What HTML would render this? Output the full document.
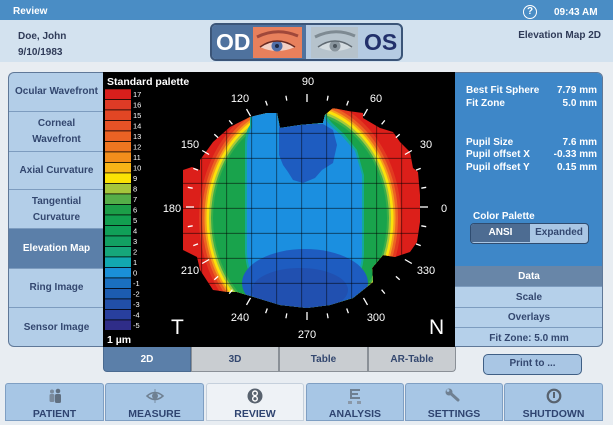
<!DOCTYPE html>
<html><head><meta charset="utf-8">
<style>
*{box-sizing:border-box;margin:0;padding:0}
html,body{width:613px;height:425px;overflow:hidden}
body{position:relative;background:#e8edf2;font-family:"Liberation Sans",Arial,sans-serif;font-weight:bold}
.a{position:absolute}
.t10{font-size:10px;line-height:12px}
.menu{left:8px;top:72px;width:95px;height:275px;border:1px solid #5f7898;border-right:none;border-radius:6px 0 0 6px;overflow:hidden;background:#b3cee8}
.mi{position:absolute;left:0;width:95px;display:flex;align-items:center;justify-content:center;text-align:center;font-size:10px;line-height:16px;color:#33476f;border-top:1px solid #7d9cbf}
.sel{background:#5b7fa9;color:#fff}
.rp{left:455px;top:72px;width:148px;height:275px;border-radius:0 6px 6px 0;overflow:hidden;background:#b5d0ea;border:1px solid #5f7898;border-left:none}
.row{position:absolute;left:0;width:148px;text-align:center;font-size:10px;color:#33476f;border-top:1px solid #7d9cbf;display:flex;align-items:center;justify-content:center}
.wt{color:#fff;font-size:10px;line-height:12px;position:absolute}
.tab{position:absolute;top:347px;height:25px;display:flex;align-items:center;justify-content:center;font-size:10px;color:#33476f;background:#c9cdd1;border:1px solid #8a9097;border-top:none}
.nb{position:absolute;top:383px;height:38px;background:#a7c6e5;border:1px solid #7f9fc3;border-radius:3px 3px 0 0;font-size:10.5px;color:#2f4470;text-align:center}
.nb span{position:absolute;left:0;right:0;top:24px;line-height:12px}
.nb svg{position:absolute;left:50%;top:4px;transform:translateX(-50%)}
</style></head><body>

<!-- top bar -->
<div class="a" style="left:0;top:0;width:613px;height:20px;background:#4a8dc5"></div>
<div class="a t10" style="left:13px;top:6px;color:#fff">Review</div>
<div class="a" style="left:523px;top:5px;width:14px;height:14px;border:1.5px solid #fff;border-radius:50%;color:#fff;font-size:10px;line-height:11px;text-align:center">?</div>
<div class="a t10" style="left:554px;top:7px;color:#fff">09:43 AM</div>

<!-- header -->
<div class="a" style="left:0;top:20px;width:613px;height:42px;background:#d3e2ef"></div>
<div class="a t10" style="left:18px;top:31px;color:#2f3b58">Doe, John</div>
<div class="a t10" style="left:18px;top:47px;color:#2f3b58">9/10/1983</div>
<div class="a t10" style="right:12px;top:30px;color:#2f3b58">Elevation Map 2D</div>

<!-- OD / OS -->
<div class="a" style="left:210px;top:23px;width:193px;height:38px;border:2px solid #3b5578;border-radius:6px;overflow:hidden;background:#b5cbe2">
  <div class="a" style="left:0;top:0;width:94px;height:34px;background:#4f729e"></div>
  <div class="a" style="left:4px;top:3px;font-size:23px;line-height:28px;color:#fff;font-weight:bold">OD</div>
  <div class="a" style="left:41px;top:2px;width:49px;height:31px;background:#e8805c;overflow:hidden">
    <svg width="49" height="31"><path d="M4,10 Q24,0 45,9" stroke="#a0483a" stroke-width="3" fill="none"/><path d="M7,20 Q24,8 42,20 Q24,28 7,20Z" fill="#f3d0c4"/><circle cx="24" cy="19" r="5.5" fill="#4f6fa8"/><circle cx="24" cy="19" r="2" fill="#1d2a44"/><path d="M7,20 Q24,8 42,20" stroke="#6a2a22" stroke-width="1.5" fill="none"/></svg>
  </div>
  <div class="a" style="left:99px;top:2px;width:47px;height:31px;background:#b6c3cc;overflow:hidden">
    <svg width="47" height="31"><path d="M4,10 Q24,0 44,9" stroke="#7e8a92" stroke-width="3" fill="none"/><path d="M7,20 Q24,8 41,20 Q24,28 7,20Z" fill="#d4dce0"/><circle cx="24" cy="19" r="5.5" fill="#8a969e"/><circle cx="24" cy="19" r="2" fill="#4a545c"/><path d="M7,20 Q24,8 41,20" stroke="#606a72" stroke-width="1.5" fill="none"/></svg>
  </div>
  <div class="a" style="left:152px;top:3px;font-size:23px;line-height:28px;color:#22306a;font-weight:bold">OS</div>
</div>

<!-- left menu -->
<div class="a menu">
  <div class="mi" style="top:-1px;height:40px;border-top:none">Ocular Wavefront</div>
  <div class="mi" style="top:38px;height:40px">Corneal<br>Wavefront</div>
  <div class="mi" style="top:78px;height:39px">Axial Curvature</div>
  <div class="mi" style="top:116px;height:40px">Tangential<br>Curvature</div>
  <div class="mi sel" style="top:155px;height:40px">Elevation Map</div>
  <div class="mi" style="top:195px;height:39px">Ring Image</div>
  <div class="mi" style="top:234px;height:41px">Sensor Image</div>
</div>

<!-- map -->
<svg class="a" style="left:103px;top:72px" width="353" height="275" viewBox="103 72 353 275" font-family="Liberation Sans, Arial, sans-serif">
<rect x="103" y="72" width="353" height="275" fill="#000"/>
<defs><clipPath id="disk"><polygon points="183,170 192,167 200,170 200,160 213,142 230,127 250,117 267,113 277,113 280,128 300,125 323,123 325,115 333,108 348,111 363,113 363,118 380,128 393,132 400,142 410,152 413,168 418,172 420,195 420,222 417,242 410,252 395,257 383,255 372,268 373,282 353,298 330,305 307,308 280,305 257,298 237,292 228,292 213,290 200,270 197,257 183,250"/></clipPath></defs>
<g clip-path="url(#disk)">
 <rect x="170" y="100" width="260" height="220" fill="#dc1f1a"/>
 <ellipse cx="300" cy="218" rx="101" ry="122" fill="#e23a20"/>
 <ellipse cx="300" cy="218" rx="98" ry="118" fill="#ec6422"/>
 <ellipse cx="300" cy="218" rx="95.5" ry="115" fill="#f5a01c"/>
 <ellipse cx="300" cy="218" rx="93.5" ry="113" fill="#fbe20a"/>
 <ellipse cx="300" cy="218" rx="91" ry="110" fill="#a6c83c"/>
 <ellipse cx="300" cy="218" rx="89" ry="107.5" fill="#3aae48"/>
 <ellipse cx="300" cy="218" rx="87" ry="105" fill="#19a34c"/>
 <path d="M250,100 L250,125 Q245,132 245,145 L245,252 Q247,301 302,301 Q364,300 364,252 L364,175 L357,150 L344,134 L332,123 L327,117 L327,100 Z" fill="#14a89a"/>
 <path d="M252,100 L252,127 Q247,134 247,147 L247,252 Q249,299 302,299 Q362,298 362,252 L362,175 L355,151 L342,136 L330,125 L325,119 L325,100 Z" fill="#1b8fe0"/>
 <path d="M279,124 L323,124 L333,130 L337,145 L333,163 L322,170 L315,178 L303,183 L293,180 L288,172 L283,165 L279,155 Z" fill="#1e5cc0"/>
 <ellipse cx="305" cy="283" rx="63" ry="34" fill="#1e5cc0"/>
 <ellipse cx="300" cy="290" rx="48" ry="22" fill="#2150b0"/>
 <g stroke="#000" stroke-opacity="0.6" stroke-width="0.8">
  <line x1="201.7" y1="100" x2="201.7" y2="320"/><line x1="226.7" y1="100" x2="226.7" y2="320"/><line x1="251.7" y1="100" x2="251.7" y2="320"/><line x1="276.7" y1="100" x2="276.7" y2="320"/><line x1="301.7" y1="100" x2="301.7" y2="320"/><line x1="326.7" y1="100" x2="326.7" y2="320"/><line x1="351.7" y1="100" x2="351.7" y2="320"/><line x1="376.7" y1="100" x2="376.7" y2="320"/><line x1="401.7" y1="100" x2="401.7" y2="320"/>
  <line x1="170" y1="108.3" x2="430" y2="108.3"/><line x1="170" y1="133.3" x2="430" y2="133.3"/><line x1="170" y1="158.3" x2="430" y2="158.3"/><line x1="170" y1="183.3" x2="430" y2="183.3"/><line x1="170" y1="208.3" x2="430" y2="208.3"/><line x1="170" y1="233.3" x2="430" y2="233.3"/><line x1="170" y1="258.3" x2="430" y2="258.3"/><line x1="170" y1="283.3" x2="430" y2="283.3"/><line x1="170" y1="308.3" x2="430" y2="308.3"/>
 </g>
</g>
<g stroke="#fff" stroke-width="1.3">
 <line x1="426.2" y1="187.3" x2="421.3" y2="188.2"/><line x1="420.7" y1="168.4" x2="416" y2="170.1"/><line x1="399.7" y1="134.3" x2="395.9" y2="137.6"/><line x1="384.8" y1="120.4" x2="381.6" y2="124.3"/><line x1="348.4" y1="100.8" x2="346.7" y2="105.5"/><line x1="328.1" y1="95.7" x2="327.2" y2="100.6"/>
 <line x1="285.9" y1="95.7" x2="286.8" y2="100.6"/><line x1="265.6" y1="100.8" x2="267.3" y2="105.5"/><line x1="229.2" y1="120.4" x2="232.4" y2="124.3"/><line x1="214.3" y1="134.3" x2="218.1" y2="137.6"/><line x1="193.3" y1="168.4" x2="198" y2="170.1"/><line x1="187.8" y1="187.3" x2="192.7" y2="188.2"/>
 <line x1="187.8" y1="226.7" x2="192.7" y2="225.8"/><line x1="193.3" y1="245.6" x2="198" y2="243.9"/><line x1="214.3" y1="279.7" x2="218.1" y2="276.4"/><line x1="229.2" y1="293.6" x2="232.4" y2="289.7"/><line x1="265.6" y1="313.2" x2="267.3" y2="308.5"/><line x1="285.9" y1="318.3" x2="286.8" y2="313.4"/>
 <line x1="328.1" y1="318.3" x2="327.2" y2="313.4"/><line x1="348.4" y1="313.2" x2="346.7" y2="308.5"/><line x1="384.8" y1="293.6" x2="381.6" y2="289.7"/><line x1="399.7" y1="279.7" x2="395.9" y2="276.4"/><line x1="420.7" y1="245.6" x2="416" y2="243.9"/><line x1="426.2" y1="226.7" x2="421.3" y2="225.8"/>
 <line x1="428" y1="207" x2="420" y2="207"/><line x1="411.8" y1="150.5" x2="404.9" y2="154.5"/><line x1="367.5" y1="109.1" x2="363.5" y2="116.1"/><line x1="307" y1="94" x2="307" y2="102"/><line x1="246.5" y1="109.1" x2="250.5" y2="116.1"/><line x1="202.2" y1="150.5" x2="209.1" y2="154.5"/>
 <line x1="186" y1="207" x2="194" y2="207"/><line x1="202.2" y1="263.5" x2="209.1" y2="259.5"/><line x1="246.5" y1="304.9" x2="250.5" y2="297.9"/><line x1="307" y1="320" x2="307" y2="312"/><line x1="367.5" y1="304.9" x2="363.5" y2="297.9"/><line x1="411.8" y1="263.5" x2="404.9" y2="259.5"/>
</g>
<g fill="#fff" font-size="11" font-weight="normal" text-anchor="middle">
 <text x="308" y="85">90</text><text x="376" y="102">60</text><text x="426" y="148">30</text><text x="444" y="212">0</text>
 <text x="426" y="274">330</text><text x="376" y="321">300</text><text x="307" y="338">270</text><text x="240" y="321">240</text>
 <text x="190" y="274">210</text><text x="172" y="212">180</text><text x="190" y="148">150</text><text x="240" y="102">120</text>
</g>
<text x="171" y="334" fill="#fff" font-size="21" font-weight="normal">T</text>
<text x="429" y="334" fill="#fff" font-size="21" font-weight="normal">N</text>
<text x="107" y="85" fill="#fff" font-size="10.5" font-weight="bold">Standard palette</text>
<g>
 <rect x="105" y="89.3" width="26" height="9.7" fill="#d71f1c"/>
 <rect x="105" y="99.8" width="26" height="9.7" fill="#de3b26"/>
 <rect x="105" y="110.3" width="26" height="9.7" fill="#e24624"/>
 <rect x="105" y="120.8" width="26" height="9.7" fill="#e65226"/>
 <rect x="105" y="131.3" width="26" height="9.7" fill="#ea6224"/>
 <rect x="105" y="141.8" width="26" height="9.7" fill="#ee7620"/>
 <rect x="105" y="152.3" width="26" height="9.7" fill="#f28e1c"/>
 <rect x="105" y="162.8" width="26" height="9.7" fill="#f7b417"/>
 <rect x="105" y="173.3" width="26" height="9.7" fill="#fbe204"/>
 <rect x="105" y="183.8" width="26" height="9.7" fill="#a5c63c"/>
 <rect x="105" y="194.3" width="26" height="9.7" fill="#55ae48"/>
 <rect x="105" y="204.8" width="26" height="9.7" fill="#1c9e48"/>
 <rect x="105" y="215.3" width="26" height="9.7" fill="#129f50"/>
 <rect x="105" y="225.8" width="26" height="9.7" fill="#10a058"/>
 <rect x="105" y="236.3" width="26" height="9.7" fill="#12a062"/>
 <rect x="105" y="246.8" width="26" height="9.7" fill="#16a67a"/>
 <rect x="105" y="257.3" width="26" height="9.7" fill="#12a8b0"/>
 <rect x="105" y="267.8" width="26" height="9.7" fill="#1a90d8"/>
 <rect x="105" y="278.3" width="26" height="9.7" fill="#1a70c0"/>
 <rect x="105" y="288.8" width="26" height="9.7" fill="#1c5cb0"/>
 <rect x="105" y="299.3" width="26" height="9.7" fill="#214fa8"/>
 <rect x="105" y="309.8" width="26" height="9.7" fill="#283f9e"/>
 <rect x="105" y="320.3" width="26" height="9.7" fill="#2f2d88"/>
</g>
<g fill="#fff" font-size="7.5" font-weight="normal">
 <text x="133" y="97">17</text><text x="133" y="107.5">16</text><text x="133" y="118">15</text><text x="133" y="128.5">14</text><text x="133" y="139">13</text><text x="133" y="149.5">12</text><text x="133" y="160">11</text><text x="133" y="170.5">10</text><text x="133" y="181">9</text><text x="133" y="191.5">8</text><text x="133" y="202">7</text><text x="133" y="212.5">6</text><text x="133" y="223">5</text><text x="133" y="233.5">4</text><text x="133" y="244">3</text><text x="133" y="254.5">2</text><text x="133" y="265">1</text><text x="133" y="275.5">0</text><text x="133" y="286">-1</text><text x="133" y="296.5">-2</text><text x="133" y="307">-3</text><text x="133" y="317.5">-4</text><text x="133" y="328">-5</text>
</g>
<text x="107" y="343" fill="#fff" font-size="10.5" font-weight="bold">1 µm</text>
</svg>

<!-- right panel -->
<div class="a rp">
  <div class="a" style="left:0;top:0;width:148px;height:193px;background:#3e87c8"></div>
  <div class="wt" style="left:11px;top:12px">Best Fit Sphere</div><div class="wt" style="right:5px;top:12px">7.79 mm</div>
  <div class="wt" style="left:11px;top:25px">Fit Zone</div><div class="wt" style="right:5px;top:25px">5.0 mm</div>
  <div class="wt" style="left:11px;top:64px">Pupil Size</div><div class="wt" style="right:5px;top:64px">7.6 mm</div>
  <div class="wt" style="left:11px;top:76px">Pupil offset X</div><div class="wt" style="right:5px;top:76px">-0.33 mm</div>
  <div class="wt" style="left:11px;top:89px">Pupil offset Y</div><div class="wt" style="right:5px;top:89px">0.15 mm</div>
  <div class="wt" style="left:18px;top:138px">Color Palette</div>
  <div class="a" style="left:15px;top:150px;width:119px;height:21px;border:1.5px solid #2f4c70;border-radius:4px;overflow:hidden;background:#a9c6e4">
    <div class="a" style="left:0;top:0;width:59px;height:18px;background:#4d6c92;color:#fff;font-size:10px;line-height:18px;text-align:center">ANSI</div>
    <div class="a" style="left:59px;top:0;width:58px;height:18px;color:#33476f;font-size:10px;line-height:18px;text-align:center">Expanded</div>
  </div>
  <div class="row" style="top:193px;height:20px;background:#6886a8;color:#fff;border-top:none">Data</div>
  <div class="row" style="top:213px;height:21px">Scale</div>
  <div class="row" style="top:234px;height:20px">Overlays</div>
  <div class="row" style="top:254px;height:21px">Fit Zone: 5.0 mm</div>
</div>

<!-- tabs -->
<div class="tab" style="left:103px;width:88px;background:#5b7fa9;color:#fff;border-color:#4a6a90;border-radius:0 0 0 4px">2D</div>
<div class="tab" style="left:191px;width:88px">3D</div>
<div class="tab" style="left:279px;width:89px">Table</div>
<div class="tab" style="left:368px;width:88px;border-radius:0 0 4px 0">AR-Table</div>

<!-- print -->
<div class="a" style="left:483px;top:354px;width:99px;height:21px;background:#a9c6e4;border:1.5px solid #3f5f85;border-radius:5px;font-size:10px;line-height:18px;text-align:center;color:#33476f">Print to ...</div>

<!-- bottom nav -->
<div class="nb" style="left:5px;width:99px">
  <svg width="16" height="16"><circle cx="5" cy="3.5" r="2" fill="#7a8a9c"/><rect x="2.5" y="6" width="5" height="8" rx="1.5" fill="#7a8a9c"/><circle cx="11" cy="3" r="2.3" fill="#606f80"/><rect x="8" y="6" width="6" height="9" rx="1.5" fill="#606f80"/></svg>
  <span>PATIENT</span></div>
<div class="nb" style="left:105px;width:99px">
  <svg width="20" height="16"><path d="M2,8 Q10,1 18,8 Q10,15 2,8Z" fill="none" stroke="#6f8092" stroke-width="1.5"/><circle cx="10" cy="8" r="3" fill="#6f8092"/><line x1="10" y1="1" x2="10" y2="15" stroke="#6f8092" stroke-width="0.8"/></svg>
  <span>MEASURE</span></div>
<div class="nb" style="left:206px;width:98px;background:#eef2f6;border-color:#c5d0dc">
  <svg width="16" height="16"><circle cx="8" cy="8" r="7.5" fill="#58626e"/><circle cx="8" cy="5.3" r="2.3" fill="none" stroke="#fff" stroke-width="1.4"/><circle cx="8" cy="10.7" r="2.3" fill="none" stroke="#fff" stroke-width="1.4"/></svg>
  <span>REVIEW</span></div>
<div class="nb" style="left:306px;width:98px">
  <svg width="16" height="17"><rect x="3" y="1" width="10" height="2" fill="#6f8092"/><rect x="3" y="5" width="8" height="2" fill="#6f8092"/><rect x="3" y="9" width="10" height="2" fill="#6f8092"/><rect x="3" y="1" width="2" height="10" fill="#6f8092"/><rect x="1" y="13" width="4" height="3" fill="#8a98a8"/><rect x="10" y="13" width="4" height="3" fill="#8a98a8"/></svg>
  <span>ANALYSIS</span></div>
<div class="nb" style="left:405px;width:98px">
  <svg width="18" height="16"><path d="M3,3 L13,12" stroke="#6f8092" stroke-width="3" stroke-linecap="round"/><circle cx="4" cy="4" r="3.5" fill="#6f8092"/><circle cx="3" cy="2.5" r="1.4" fill="#a7c6e5"/></svg>
  <span>SETTINGS</span></div>
<div class="nb" style="left:504px;width:99px">
  <svg width="16" height="16"><circle cx="8" cy="8" r="6.3" fill="none" stroke="#58626e" stroke-width="2.2"/><rect x="7" y="4" width="2" height="6" fill="#58626e"/></svg>
  <span>SHUTDOWN</span></div>

</body></html>
